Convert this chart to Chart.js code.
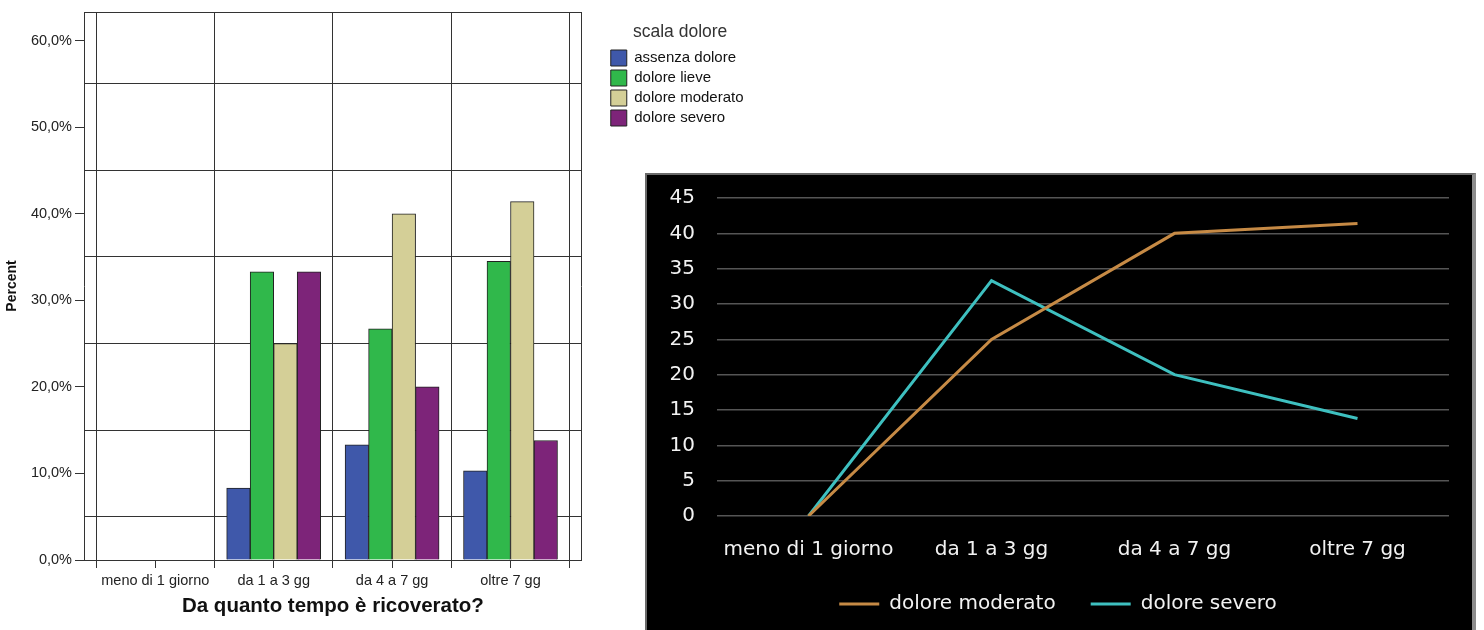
<!DOCTYPE html>
<html>
<head>
<meta charset="utf-8">
<script src="https://cdn.jsdelivr.net/npm/chart.js@4.4.1/dist/chart.umd.min.js"></script>
<style>
  html, body { margin: 0; padding: 0; background: #fff; width: 1484px; height: 630px; overflow: hidden; }
  /* canvas starts off-page so the layout gives the side legend enough room */
  #barChart { position: absolute; left: -200px; top: 0; }
  #lineBox {
    position: absolute; left: 645px; top: 173px; width: 831px; height: 500px;
    background: #000; box-sizing: border-box;
    border-top: 2px solid #6a6a6a; border-left: 2px solid #6a6a6a; border-right: 4px solid #8c8c8c;
    z-index: 2;
  }
  #lineChart { position: absolute; left: 0; top: -11px; }
</style>
</head>
<body>
<canvas id="barChart" width="970" height="630"></canvas>
<div id="lineBox"><canvas id="lineChart" width="825" height="460"></canvas></div>
<script>
// Percentuali per durata del ricovero (da SPSS)
const categories = ['meno di 1 giorno', 'da 1 a 3 gg', 'da 4 a 7 gg', 'oltre 7 gg'];
const painLevels = ['assenza dolore', 'dolore lieve', 'dolore moderato', 'dolore severo'];
const assenza  = [0, 8.3, 13.3, 10.3];
const lieve    = [0, 33.3, 26.7, 34.5];
const moderato = [0, 25.0, 40.0, 41.4];
const severo   = [0, 33.3, 20.0, 13.8];
const percentTicks = [0, 10, 20, 30, 40, 50, 60];
const lineTicks = [0, 5, 10, 15, 20, 25, 30, 35, 40, 45];

const DARK = '#333';
const OFFSET = 200; // how far the bar canvas sits left of the page
const toPoints = vals => vals.map((v, i) => ({ x: i, y: v }));
const fmtPct = v => v.toFixed(1).replace('.', ',') + '%';
const tickVal = c => (c && c.tick) ? c.tick.value : null;

// category centres plus the boundaries between them
const xTickValues = [];
categories.forEach((_, i) => { xTickValues.push(i - 0.5, i); });
xTickValues.push(categories.length - 0.5);

// gridlines sit halfway between the labelled percent ticks
const yTickValues = [];
percentTicks.forEach((v, i) => {
  yTickValues.push(v);
  if (i < percentTicks.length - 1) yTickValues.push((v + percentTicks[i + 1]) / 2);
});
const isLabelled = v => percentTicks.includes(v);

const barColors = ['#3f58aa', '#30b84b', '#d4cf97', '#7d2479'];
const barSeries = [assenza, lieve, moderato, severo];

new Chart(document.getElementById('barChart'), {
  type: 'bar',
  data: {
    datasets: barSeries.map((vals, i) => ({
      label: painLevels[i],
      data: toPoints(vals),
      backgroundColor: barColors[i],
      borderColor: '#222',
      borderWidth: 1,
      barThickness: 23.5
    }))
  },
  options: {
    responsive: false,
    animation: false,
    layout: { padding: { left: 0, top: 0, right: 16.5, bottom: 0 } },
    plugins: {
      legend: {
        position: 'right',
        align: 'start',
        title: {
          display: true,
          text: 'scala dolore',
          color: '#333',
          font: { family: 'Liberation Sans', size: 17.5 },
          padding: { top: 23, bottom: 2 }
        },
        labels: {
          boxWidth: 16, boxHeight: 16, padding: 4,
          color: '#111',
          font: { family: 'Liberation Sans', size: 15 }
        }
      },
      tooltip: { enabled: false }
    },
    scales: {
      x: {
        type: 'linear',
        offset: false,
        min: -0.6017,
        max: categories.length - 0.3983,
        afterBuildTicks: s => { s.ticks = xTickValues.map(v => ({ value: v })); },
        afterFit: s => { s.height = 70; },
        grid: {
          offset: false,
          color: c => Number.isInteger(tickVal(c)) ? 'transparent' : DARK,
          tickColor: DARK,
          tickLength: 8,
          lineWidth: 1
        },
        border: { color: DARK, width: 1 },
        ticks: {
          autoSkip: false, maxRotation: 0, padding: 4,
          color: '#222',
          font: { family: 'Liberation Sans', size: 14.5 },
          callback: v => Number.isInteger(v) ? categories[v] : ''
        },
        title: {
          display: true,
          text: 'Da quanto tempo è ricoverato?',
          color: '#111',
          font: { family: 'Liberation Sans', size: 20.5, weight: 'bold' },
          padding: { top: 0, bottom: 11 }
        }
      },
      y: {
        min: 0,
        max: 63.3,
        afterBuildTicks: s => { s.ticks = yTickValues.map(v => ({ value: v })); },
        afterFit: s => { s.width = OFFSET + 84; },
        grid: {
          color: c => isLabelled(tickVal(c)) ? 'transparent' : DARK,
          tickColor: c => isLabelled(tickVal(c)) ? DARK : 'transparent',
          tickLength: 9,
          lineWidth: 1
        },
        border: { color: DARK, width: 1 },
        ticks: {
          autoSkip: false, padding: 3,
          color: '#222',
          font: { family: 'Liberation Sans', size: 14.5 },
          callback: v => isLabelled(v) ? fmtPct(v) : ''
        },
        title: {
          display: true,
          text: 'Percent',
          color: '#111',
          font: { family: 'Liberation Sans', size: 14, weight: 'bold' },
          padding: { top: OFFSET + 4, bottom: 0 }
        }
      },
      // frame: top and right edges
      xTop: {
        type: 'linear', position: 'top',
        afterFit: s => { s.height = 12; },
        grid: { display: false }, ticks: { display: false },
        border: { color: DARK, width: 1 }
      },
      yRight: {
        type: 'linear', position: 'right',
        afterFit: s => { s.width = 25; },
        grid: { display: false }, ticks: { display: false },
        border: { color: DARK, width: 1 }
      }
    }
  }
});

const lightText = '#f2f2f2';
const lineFont = { family: 'DejaVu Sans', size: 20 };

new Chart(document.getElementById('lineChart'), {
  type: 'line',
  data: {
    labels: categories,
    datasets: [
      { label: 'dolore moderato', data: moderato, borderColor: '#c68a45', backgroundColor: '#c68a45',
        borderWidth: 3, pointRadius: 0, tension: 0 },
      { label: 'dolore severo', data: severo, borderColor: '#3ec0c0', backgroundColor: '#3ec0c0',
        borderWidth: 3, pointRadius: 0, tension: 0 }
    ]
  },
  options: {
    responsive: false,
    animation: false,
    layout: { padding: { left: 20, top: 11, right: 23, bottom: 0 } },
    plugins: {
      legend: {
        position: 'bottom',
        labels: {
          usePointStyle: true, pointStyle: 'line', pointStyleWidth: 40,
          padding: 35,
          color: lightText,
          font: lineFont
        }
      },
      tooltip: { enabled: false }
    },
    scales: {
      x: {
        offset: true,
        afterFit: s => { s.height = 43; },
        grid: { display: false },
        border: { display: false },
        ticks: { color: lightText, font: lineFont, padding: 14, maxRotation: 0, autoSkip: false }
      },
      y: {
        min: 0,
        max: 45,
        afterBuildTicks: s => { s.ticks = lineTicks.map(v => ({ value: v })); },
        afterFit: s => { s.width = 50; },
        grid: { color: '#555', lineWidth: 1.5, drawTicks: false },
        border: { display: false },
        ticks: { color: lightText, font: lineFont, padding: 22 }
      }
    }
  }
});
</script>
</body>
</html>
